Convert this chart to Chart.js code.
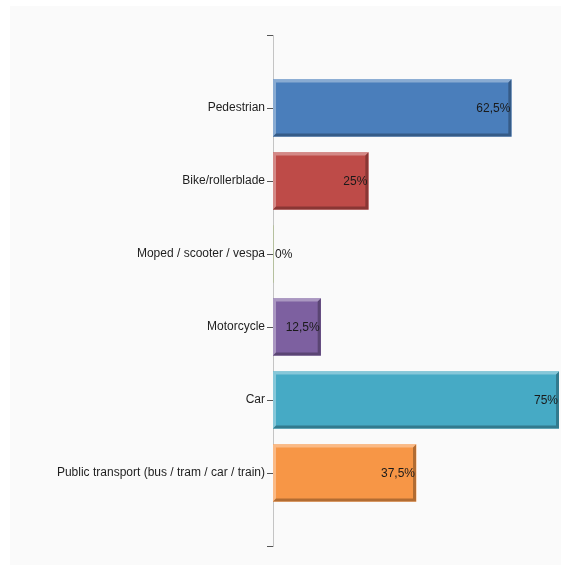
<!DOCTYPE html>
<html><head><meta charset="utf-8">
<script src="https://cdn.jsdelivr.net/npm/chart.js@4.4.1/dist/chart.umd.min.js"></script>
<style>html,body{margin:0;padding:0;background:#fff;}#wrap{width:561px;height:565px;}</style>
</head><body><div id="wrap"><canvas id="c" width="561" height="565"></canvas></div>
<script>
const categories = ['Pedestrian','Bike/rollerblade','Moped / scooter / vespa','Motorcycle','Car','Public transport (bus / tram / car / train)'];
const values = [62.5, 25, 0, 12.5, 75, 37.5];
const colors = ['#4a7ebb','#be4b48','#98b954','#7d60a0','#46aac5','#f79646'];
const xMax = 75;

// pad with empty slots at both ends so categories sit at positions 1..6 of 0..7
const labels = [''].concat(categories, ['']);
const data = [null].concat(values, [null]);
const bg = ['#000'].concat(colors, ['#000']);

const panelBg = {
  id: 'panelBg',
  beforeDraw(chart) {
    const ctx = chart.ctx;
    ctx.save();
    ctx.fillStyle = '#fafafa';
    ctx.fillRect(10, 6, chart.width - 10, chart.height - 6);
    ctx.restore();
  }
};

const bevel = {
  id: 'bevel',
  afterDatasetsDraw(chart) {
    const ctx = chart.ctx;
    const meta = chart.getDatasetMeta(0);
    meta.data.forEach((el, i) => {
      const v = data[i];
      if (v === null || v === 0) return;
      const left = Math.min(el.base, el.x), right = Math.max(el.base, el.x);
      const top = el.y - el.height / 2, bot = el.y + el.height / 2;
      const b = 3;
      ctx.save();
      ctx.fillStyle = 'rgba(255,255,255,0.35)';
      ctx.beginPath();
      ctx.moveTo(left, top); ctx.lineTo(right, top); ctx.lineTo(right - b, top + b);
      ctx.lineTo(left + b, top + b); ctx.lineTo(left + b, bot - b); ctx.lineTo(left, bot);
      ctx.closePath(); ctx.fill();
      ctx.fillStyle = 'rgba(0,0,0,0.28)';
      ctx.beginPath();
      ctx.moveTo(right, top); ctx.lineTo(right, bot); ctx.lineTo(left, bot);
      ctx.lineTo(left + b, bot - b); ctx.lineTo(right - b, bot - b); ctx.lineTo(right - b, top + b);
      ctx.closePath(); ctx.fill();
      ctx.restore();
    });
  }
};

const valueLabels = {
  id: 'valueLabels',
  afterDatasetsDraw(chart) {
    const ctx = chart.ctx;
    const meta = chart.getDatasetMeta(0);
    ctx.save();
    ctx.font = '12px "Liberation Sans", Arial, sans-serif';
    ctx.fillStyle = '#1a1a1a';
    ctx.textBaseline = 'middle';
    meta.data.forEach((el, i) => {
      const v = data[i];
      if (v === null) return;
      const txt = String(v).replace('.', ',') + '%';
      if (v === 0) { ctx.textAlign = 'left'; ctx.fillText(txt, el.x + 2, el.y + 1); }
      else { ctx.textAlign = 'right'; ctx.fillText(txt, el.x - 1, el.y + 1); }
    });
    ctx.restore();
  }
};

new Chart(document.getElementById('c'), {
  type: 'bar',
  data: { labels: labels, datasets: [{ data: data, backgroundColor: bg, borderWidth: 0, barThickness: 57 }] },
  options: {
    indexAxis: 'y',
    responsive: false,
    animation: false,
    events: [],
    layout: { padding: { left: 10, top: 35, bottom: 19, right: 2 } },
    plugins: { legend: { display: false }, tooltip: { enabled: false } },
    scales: {
      x: { display: false, min: 0, max: xMax },
      y: {
        offset: false,
        afterFit(s) { s.width = 263; },
        grid: { offset: false, drawOnChartArea: false, drawTicks: true, tickLength: 6, tickColor: '#555', tickWidth: 1 },
        border: { display: true, color: '#c4c4c4', width: 1 },
        ticks: { color: '#1e1e1e', padding: 2, autoSkip: false, font: { family: '"Liberation Sans", Arial, sans-serif', size: 12 } }
      }
    }
  },
  plugins: [panelBg, bevel, valueLabels]
});
</script></body></html>
